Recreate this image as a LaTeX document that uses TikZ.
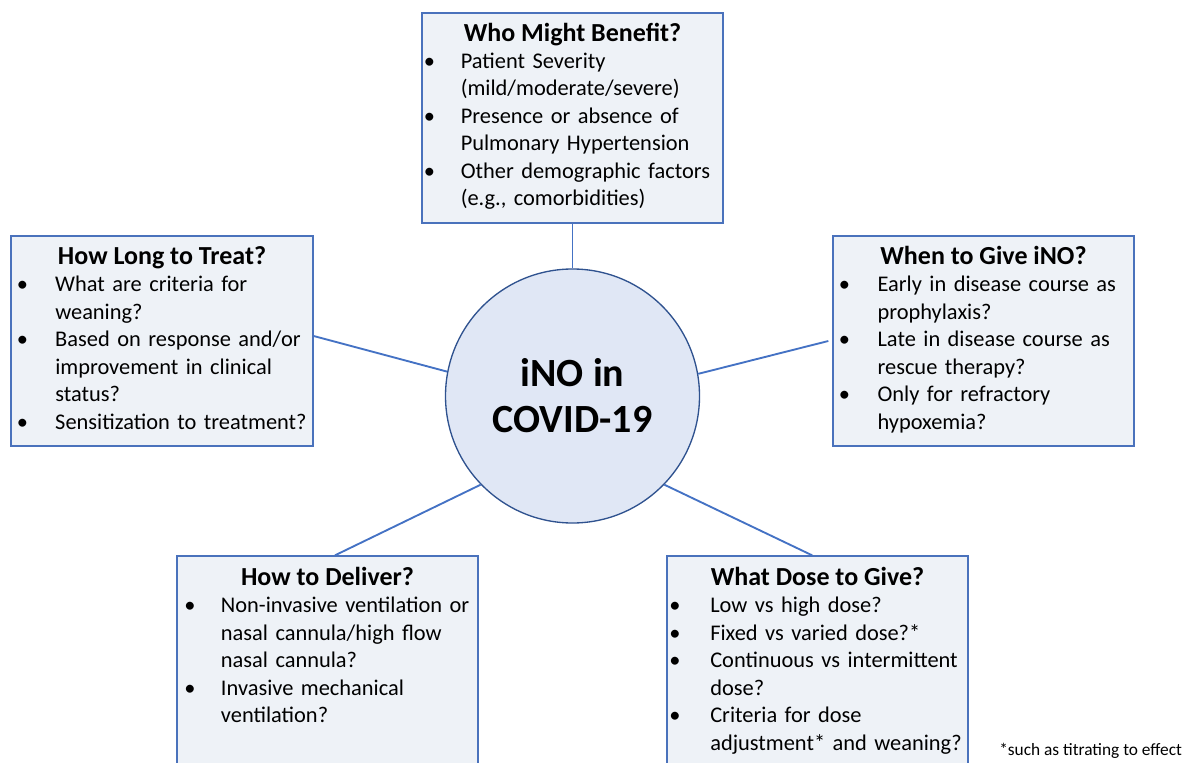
\documentclass[tikz,border=0pt]{standalone}
\usepackage{fontspec}
\setmainfont{Carlito}
\definecolor{boxfill}{HTML}{EEF2F7}
\definecolor{boxline}{HTML}{4A72BC}
\definecolor{hubfill}{HTML}{E0E7F5}
\definecolor{hubline}{HTML}{2F528F}
\definecolor{connc}{HTML}{4472C4}
\newdimen\pxu \pxu=0.75pt
\newdimen\bind
\newcommand\bu{\makebox[\bind][l]{\textbullet}}
\newcommand\co{\hspace*{\bind}}
\tikzset{
  qbox/.style={draw=boxline, fill=boxfill, line width=1pt, rectangle, inner sep=0pt},
  hub/.style={circle, draw=hubline, fill=hubfill, line width=1pt, inner sep=0pt, align=center,
    font=\bfseries\fontsize{30}{34.5}\selectfont},
  conn/.style={draw=connc, line width=1.4pt},
  ttl/.style={anchor=base, inner sep=0pt, font=\bfseries\fontsize{19.5}{20.6}\selectfont},
  lst/.style={anchor=base west, inner sep=0pt, text width=320*0.75pt, align=left,
    font=\fontsize{16.8}{20.625}\selectfont},
  foot/.style={anchor=base west, inner sep=0pt, font=\fontsize{13}{15}\selectfont}
}
\begin{document}
\begin{tikzpicture}[x=0.75pt,y=-0.75pt]
\useasboundingbox (0,0) rectangle (1184,763);
\clip (0,0) rectangle (1184,763);
% boxes
\node[qbox, minimum width=301*0.75pt, minimum height=210*0.75pt] (who) at (572.5,118) {};
\node[qbox, minimum width=302*0.75pt, minimum height=210*0.75pt] (long) at (162,341) {};
\node[qbox, minimum width=301*0.75pt, minimum height=210*0.75pt] (when) at (983.5,341) {};
\node[qbox, minimum width=301*0.75pt, minimum height=260*0.75pt] (deliver) at (327.5,686) {};
\node[qbox, minimum width=301*0.75pt, minimum height=260*0.75pt] (dose) at (817.5,686) {};
% hub
\node[hub, minimum size=254*0.75pt] (hub) at (572.5,396) {iNO in\\COVID-19};
% connectors
\draw[conn] (who.south) -- (hub.north);
\draw[conn] ([yshift=3.75pt]long.east) -- (hub.169);
\draw[conn] ([xshift=-3pt]when.west) -- (hub.10);
\draw[conn] ([xshift=5.6pt]deliver.north) -- (hub.224);
\draw[conn] ([xshift=-4pt]dose.north) -- (hub.316);
% titles
\node[ttl] (whot) at (572.5,42) {Who Might Benefit?};
\node[ttl] (longt) at (162,264) {How Long to Treat?};
\node[ttl] (whent) at (983.5,264) {When to Give iNO?};
\node[ttl] (delt) at (327.5,585) {How to Deliver?};
\node[ttl] (doset) at (817.5,585) {What Dose to Give?};
% lists
\node[lst] (whol) at (423.5,68.5) {\bind=37\pxu
\bu Patient Severity\\
\co (mild/moderate/severe)\\
\bu Presence or absence of\\
\co Pulmonary Hypertension\\
\bu Other demographic factors\\
\co (e.g., comorbidities)};
\node[lst] (longl) at (16.5,291.5) {\bind=38.5\pxu
\bu What are criteria for\\
\co weaning?\\
\bu Based on response and/or\\
\co improvement in clinical\\
\co status?\\
\bu Sensitization to treatment?};
\node[lst] (whenl) at (838.5,291.5) {\bind=38.8\pxu
\bu Early in disease course as\\
\co prophylaxis?\\
\bu Late in disease course as\\
\co rescue therapy?\\
\bu Only for refractory\\
\co hypoxemia?};
\node[lst] (dell) at (184,612.5) {\bind=36.7\pxu
\bu Non-invasive ventilation or\\
\co nasal cannula/high flow\\
\co nasal cannula?\\
\bu Invasive mechanical\\
\co ventilation?};
\node[lst] (dosel) at (669,612.5) {\bind=41\pxu
\bu Low vs high dose?\\
\bu Fixed vs varied dose?*\\
\bu Continuous vs intermittent\\
\co dose?\\
\bu Criteria for dose\\
\co adjustment* and weaning?};
\node[foot] (note) at (999,755) {*such as titrating to effect};
\end{tikzpicture}
\end{document}
